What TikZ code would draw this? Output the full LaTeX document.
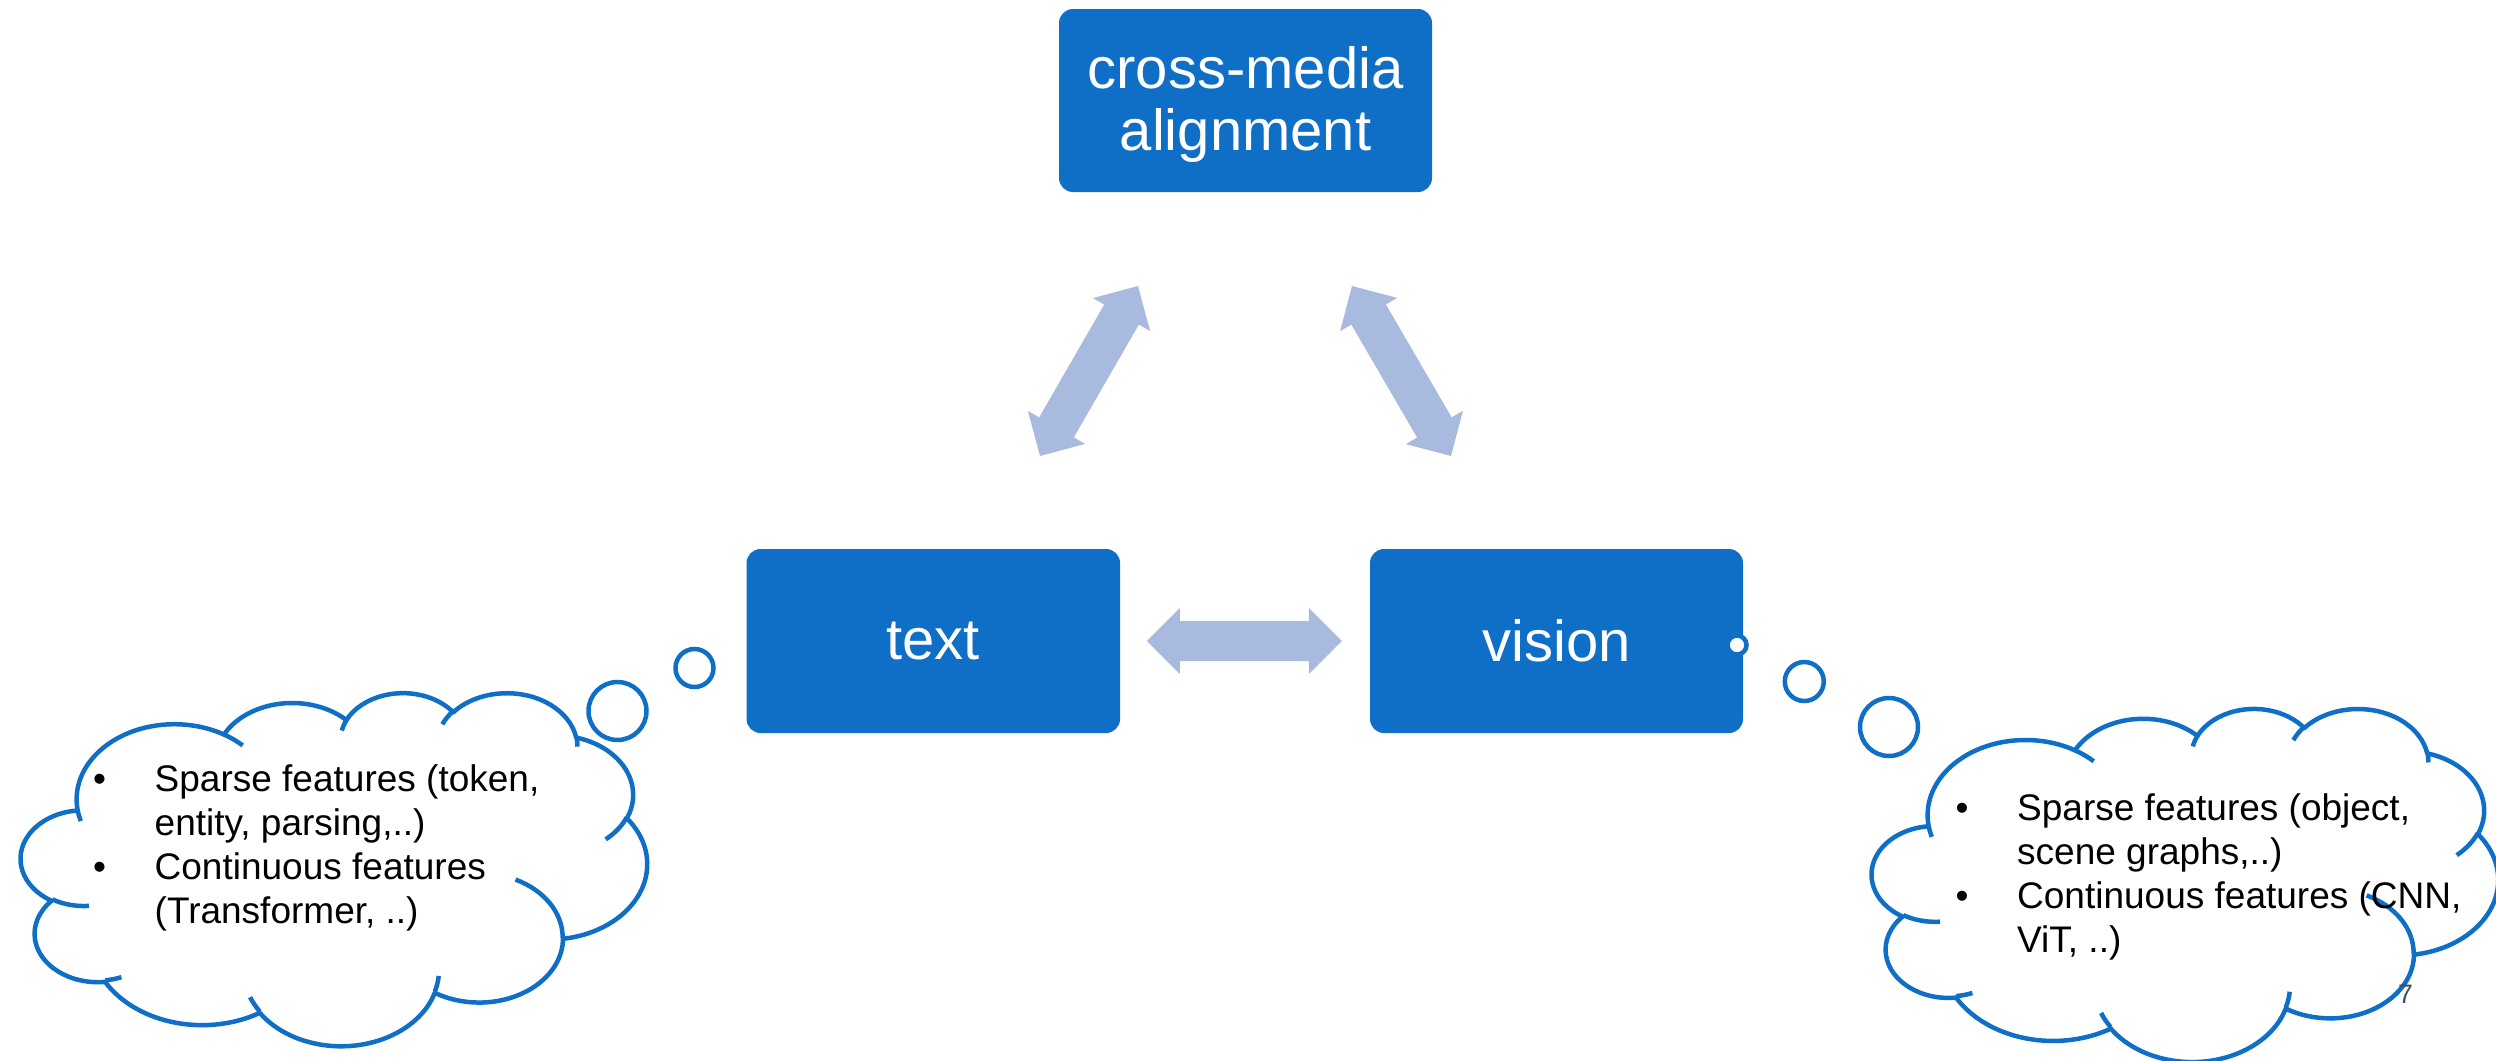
\documentclass[tikz,border=0pt]{standalone}
\usepackage{fontspec}
\setmainfont{Liberation Sans}
\usetikzlibrary{calc}

\definecolor{boxblue}{HTML}{0F6FC6}
\definecolor{arrowblue}{HTML}{A9BADF}
\definecolor{pagegray}{HTML}{4D4D57}

% One lobe of a cloud outline: radii wR, hR; ray angles st and sweep sw (degrees,
% clockwise on screen). The ray angle is turned into the ellipse parameter.
\newcommand\cloudarc[4]{arc[start angle={atan2((#1)*sin(#3),(#2)*cos(#3))},
  delta angle={Mod(atan2((#1)*sin((#3)+(#4)),(#2)*cos((#3)+(#4)))-atan2((#1)*sin(#3),(#2)*cos(#3)),360)},
  x radius=#1, y radius=#2]}

% Cloud in a 432 x 432 frame, placed at (#1,#2) with size #3 x #4.
\newcommand\thoughtcloud[4]{%
  \begin{scope}[shift={(#1,#2)}, x=#3*0.1mm/432, y=-#4*0.1mm/432]
    \filldraw[cloudline] (39.00,143.70)
      \cloudarc{67.53}{91.90}{-190.4875}{123.7805}
      \cloudarc{53.33}{72.67}{-144.1024}{89.9452}
      \cloudarc{43.65}{59.45}{-145.8079}{99.7230}
      \cloudarc{48.57}{65.95}{-130.9861}{117.2417}
      \cloudarc{53.33}{72.73}{-78.7089}{109.0269}
      \cloudarc{67.75}{92.20}{-46.2673}{130.2690}
      \cloudarc{57.85}{78.67}{0.6250}{114.0333}
      \cloudarc{67.52}{92.15}{22.4516}{115.1726}
      \cloudarc{77.20}{105.43}{66.2426}{75.7110}
      \cloudarc{43.60}{59.18}{-274.9421}{146.7356}
      \cloudarc{43.45}{59.45}{-246.8285}{152.5189}
      -- cycle;
    % inner creases between the lobes
    \draw[cloudline, fill=none]
      (46.93,261.77)  \cloudarc{43.45}{59.45}{86.7420}{26.4295}
      (69.28,348.99)  \cloudarc{43.60}{59.18}{73.6105}{11.4475}
      (164.78,390.90) \cloudarc{67.52}{92.15}{137.6242}{14.0811}
      (288.27,347.51) \cloudarc{67.52}{92.15}{6.4533}{15.9984}
      (341.29,229.54) \cloudarc{57.85}{78.67}{-70.2924}{70.9174}
      (417.98,153.54) \cloudarc{53.33}{72.73}{30.3180}{27.7515}
      (383.24,54.26)  \cloudarc{48.57}{65.95}{-13.7443}{14.8589}
      (290.78,39.52)  \cloudarc{48.57}{65.95}{-149.1815}{18.1954}
      (221.41,47.20)  \cloudarc{43.65}{59.45}{-163.4943}{17.6864}
      (140.00,51.92)  \cloudarc{67.53}{91.90}{-66.7070}{12.3194}
      (41.27,157.89)  \cloudarc{67.53}{91.90}{157.6544}{11.8582};
  \end{scope}}

% Broad two-headed arrow between two named points.
\newcommand\headlen{3.3mm}
\newcommand\headw{3.3mm}
\newcommand\shaftw{2.0mm}
\newcommand\broadarrow[2]{%
  \coordinate (#1-h) at ($(#1)!\headlen!(#2)$);
  \coordinate (#2-h) at ($(#2)!\headlen!(#1)$);
  \fill[arrowblue] (#1)
    -- ($(#1-h)!\headw!90:(#2)$) -- ($(#1-h)!\shaftw!90:(#2)$)
    -- ($(#2-h)!\shaftw!-90:(#1)$) -- ($(#2-h)!\headw!-90:(#1)$)
    -- (#2)
    -- ($(#2-h)!\headw!90:(#1)$) -- ($(#2-h)!\shaftw!90:(#1)$)
    -- ($(#1-h)!\shaftw!-90:(#2)$) -- ($(#1-h)!\headw!-90:(#2)$)
    -- cycle;}

\tikzset{
  mediabox/.style={rectangle, rounded corners=1.4mm, fill=boxblue, draw=none,
    text=white, inner sep=0pt, align=center,
    font=\fontsize{16.5pt}{17.64pt}\selectfont},
  cloudline/.style={draw=boxblue, line width=0.45mm, line join=round, fill=white},
  cloudtext/.style={anchor=north west, inner sep=0pt, align=left, text=black,
    font=\fontsize{10.53pt}{12.52pt}\selectfont},
  bubble/.style={draw=boxblue, line width=0.45mm, fill=white},
}

\newcommand\bul{\makebox[6.15mm][l]{•}}
\newcommand\ind{\hspace*{6.15mm}}

\begin{document}
\begin{tikzpicture}[x=0.1mm, y=-0.1mm]
  \useasboundingbox (0,0) rectangle (2496,1061);
  \fill[white] (0,0) rectangle (2496,1061);

  % the three modules
  \node[mediabox, minimum width=37.3mm, minimum height=18.3mm] (align) at (1245.5,100.5)
    {\rule{0pt}{4.95mm}cross-media\\alignment};
  \node[mediabox, minimum width=37.35mm, minimum height=18.4mm] (text) at (933.3,641) {text};
  \node[mediabox, minimum width=37.3mm, minimum height=18.4mm] (vision) at (1556.5,641) {vision};

  % links between the modules
  \coordinate (tl) at (1040,456);
  \coordinate (tu) at (1138,286);
  \coordinate (vl) at (1451,456);
  \coordinate (vu) at (1352,286);
  \coordinate (hl) at ($(text.east)+(26,0)$);
  \coordinate (hr) at ($(vision.west)+(-27.5,0)$);
  \broadarrow{tl}{tu}
  \broadarrow{vl}{vu}
  \broadarrow{hl}{hr}

  % thought clouds
  \thoughtcloud{21}{692}{626}{353}
  \thoughtcloud{1872}{707.8}{626}{353}

  % bubbles leading to the clouds
  \draw[bubble] (694.5,668) circle[radius=19];
  \draw[bubble] (617.5,711) circle[radius=29];
  \draw[bubble] (1804.3,681.5) circle[radius=19.5];
  \draw[bubble] (1889,727) circle[radius=29];
  \draw[bubble] (1737,645) circle[radius=9.5];

  % cloud contents
  \node[cloudtext] (tfeat) at (92.5,759.7)
    {\strut\bul Sparse features (token,\\
     \ind entity, parsing,..)\\
     \bul Continuous features\\
     \ind (Transformer, ..)\strut};
  \node[cloudtext] (vfeat) at (1955,788.5)
    {\strut\bul Sparse features (object,\\
     \ind scene graphs,..)\\
     \bul Continuous features (CNN,\\
     \ind ViT, ..)\strut};

  % slide number
  \node[anchor=base, inner sep=0pt, text=pagegray, font=\fontsize{7.6pt}{9pt}\selectfont]
    (pageno) at (2405.5,1003) {7};
\end{tikzpicture}
\end{document}
